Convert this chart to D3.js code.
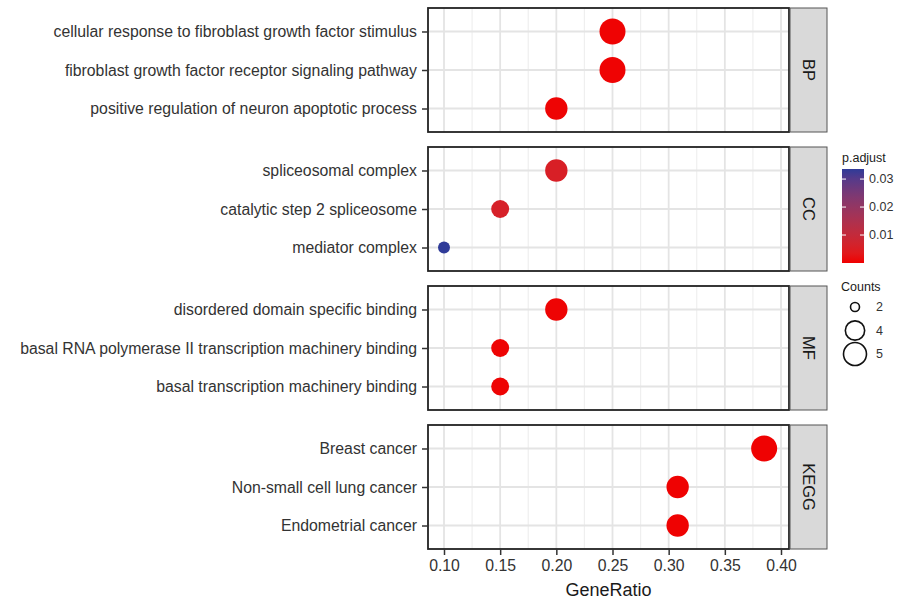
<!DOCTYPE html>
<html>
<head>
<meta charset="utf-8">
<script src="https://cdn.jsdelivr.net/npm/d3@7.9.0/dist/d3.min.js"></script>
<style>
  body { margin: 0; background: #fff; }
  svg { font-family: "Liberation Sans", Arial, sans-serif; }
</style>
</head>
<body>
<svg id="chart" width="912" height="600"></svg>
<script>
const groups = ['BP', 'CC', 'MF', 'KEGG'];
const terms = [
  ['cellular response to fibroblast growth factor stimulus', 'fibroblast growth factor receptor signaling pathway', 'positive regulation of neuron apoptotic process'],
  ['spliceosomal complex', 'catalytic step 2 spliceosome', 'mediator complex'],
  ['disordered domain specific binding', 'basal RNA polymerase II transcription machinery binding', 'basal transcription machinery binding'],
  ['Breast cancer', 'Non-small cell lung cancer', 'Endometrial cancer']
];
const geneRatio = [
  [0.25, 0.25, 0.20],
  [0.20, 0.15, 0.10],
  [0.20, 0.15, 0.15],
  [0.385, 0.308, 0.308]
];
const counts = [
  [5, 5, 4],
  [4, 3, 2],
  [4, 3, 3],
  [5, 4, 4]
];
const pAdjust = [
  [0.0003, 0.0003, 0.0004],
  [0.0055, 0.006, 0.0336],
  [0.0004, 0.0004, 0.0004],
  [0.0002, 0.0002, 0.0002]
];
const xTicks = [0.10, 0.15, 0.20, 0.25, 0.30, 0.35, 0.40];
const pTicks = [0.01, 0.02, 0.03];
const countTicks = [2, 4, 5];

const svg = d3.select('#chart');
const panelLeft = 428, panelRight = 789;
const panelTop = 8, panelH = 124, panelGap = 15;
const stripW = 37;

const x = d3.scaleLinear().domain([0.10, 0.40]).range([444, 781]);
const r = d3.scaleRadial().domain([2, 5]).range([6, 13]);
const pDomain = [0, 0.0336];
const color = d3.scaleLinear().domain(pDomain).range(['#f00000', '#2f3b98']).interpolate(d3.interpolateLab);

const minorTicks = d3.range(0.125, 0.40, 0.05);

groups.forEach((g, gi) => {
  const top = panelTop + gi * (panelH + panelGap);
  const y = d3.scalePoint().domain(terms[gi]).range([top, top + panelH]).padding(0.61);
  const panel = svg.append('g');

  panel.append('rect')
    .attr('x', panelLeft).attr('y', top)
    .attr('width', panelRight - panelLeft).attr('height', panelH)
    .attr('fill', '#fff');

  panel.selectAll('.minor').data(minorTicks).join('line')
    .attr('x1', d => x(d)).attr('x2', d => x(d))
    .attr('y1', top).attr('y2', top + panelH)
    .attr('stroke', '#efefef').attr('stroke-width', 1.2);

  panel.selectAll('.major').data(xTicks).join('line')
    .attr('x1', d => x(d)).attr('x2', d => x(d))
    .attr('y1', top).attr('y2', top + panelH)
    .attr('stroke', '#e4e4e4').attr('stroke-width', 1.8);

  panel.selectAll('.hgrid').data(terms[gi]).join('line')
    .attr('x1', panelLeft).attr('x2', panelRight)
    .attr('y1', d => y(d)).attr('y2', d => y(d))
    .attr('stroke', '#e4e4e4').attr('stroke-width', 1.8);

  const pts = terms[gi].map((t, i) => ({ term: t, gr: geneRatio[gi][i], n: counts[gi][i], p: pAdjust[gi][i] }));
  panel.selectAll('circle').data(pts).join('circle')
    .attr('cx', d => x(d.gr)).attr('cy', d => y(d.term))
    .attr('r', d => r(d.n))
    .attr('fill', d => color(d.p));

  panel.append('rect')
    .attr('x', panelLeft).attr('y', top)
    .attr('width', panelRight - panelLeft).attr('height', panelH)
    .attr('fill', 'none').attr('stroke', '#222').attr('stroke-width', 1.8);

  const yAxis = panel.append('g')
    .attr('transform', `translate(${panelLeft},0)`)
    .call(d3.axisLeft(y).tickSize(6).tickPadding(5));
  yAxis.select('.domain').remove();
  yAxis.selectAll('.tick line').attr('stroke', '#333').attr('stroke-width', 1.5);
  yAxis.selectAll('.tick text').attr('fill', '#333').style('font-size', '15.8px');

  panel.append('rect')
    .attr('x', panelRight + 1).attr('y', top)
    .attr('width', stripW).attr('height', panelH)
    .attr('fill', '#d9d9d9').attr('stroke', '#555').attr('stroke-width', 1);
  panel.append('text')
    .attr('transform', `translate(${panelRight + 1 + stripW / 2},${top + panelH / 2}) rotate(90)`)
    .attr('text-anchor', 'middle').attr('dy', '0.35em')
    .attr('fill', '#1a1a1a').style('font-size', '16.5px')
    .text(g);
});

const bottom = panelTop + 3 * (panelH + panelGap) + panelH;
const xAxis = svg.append('g')
  .attr('transform', `translate(0,${bottom})`)
  .call(d3.axisBottom(x).tickValues(xTicks).tickFormat(d3.format('.2f')).tickSize(6).tickPadding(5));
xAxis.select('.domain').remove();
xAxis.selectAll('.tick line').attr('stroke', '#333').attr('stroke-width', 1.5);
xAxis.selectAll('.tick text').attr('fill', '#333').style('font-size', '15.8px');

svg.append('text')
  .attr('x', (panelLeft + panelRight) / 2).attr('y', 596)
  .attr('text-anchor', 'middle').attr('fill', '#1a1a1a')
  .style('font-size', '18px').text('GeneRatio');

// p.adjust colour bar
const barX = 842, barW = 22, barTop = 169, barBottom = 263;
const pScale = d3.scaleLinear().domain(pDomain).range([barBottom, barTop]);
const defs = svg.append('defs');
const grad = defs.append('linearGradient').attr('id', 'pgrad')
  .attr('x1', 0).attr('y1', 1).attr('x2', 0).attr('y2', 0);
d3.range(0, 1.001, 0.1).forEach(t => {
  grad.append('stop').attr('offset', t)
    .attr('stop-color', color(pDomain[0] + t * (pDomain[1] - pDomain[0])));
});
svg.append('text').attr('x', barX).attr('y', 162)
  .attr('fill', '#1a1a1a').style('font-size', '12.5px').text('p.adjust');
svg.append('rect').attr('x', barX).attr('y', barTop)
  .attr('width', barW).attr('height', barBottom - barTop)
  .attr('fill', 'url(#pgrad)');
pTicks.forEach(t => {
  svg.append('line').attr('x1', barX).attr('x2', barX + 4)
    .attr('y1', pScale(t)).attr('y2', pScale(t)).attr('stroke', '#fff').attr('stroke-width', 1);
  svg.append('line').attr('x1', barX + barW - 4).attr('x2', barX + barW)
    .attr('y1', pScale(t)).attr('y2', pScale(t)).attr('stroke', '#fff').attr('stroke-width', 1);
  svg.append('text').attr('x', barX + barW + 5).attr('y', pScale(t))
    .attr('dy', '0.35em').attr('fill', '#333').style('font-size', '12.5px')
    .text(d3.format('.2f')(t));
});

// Counts size legend
svg.append('text').attr('x', barX - 1).attr('y', 291)
  .attr('fill', '#1a1a1a').style('font-size', '12.5px').text('Counts');
const sizeY = d3.scalePoint().domain(countTicks).range([307, 354]);
countTicks.forEach(c => {
  svg.append('circle').attr('cx', 855).attr('cy', sizeY(c))
    .attr('r', r(c) - 1.5).attr('fill', 'none').attr('stroke', '#111').attr('stroke-width', 1.6);
  svg.append('text').attr('x', 876).attr('y', sizeY(c))
    .attr('dy', '0.35em').attr('fill', '#333').style('font-size', '12.5px').text(c);
});
</script>
</body>
</html>
